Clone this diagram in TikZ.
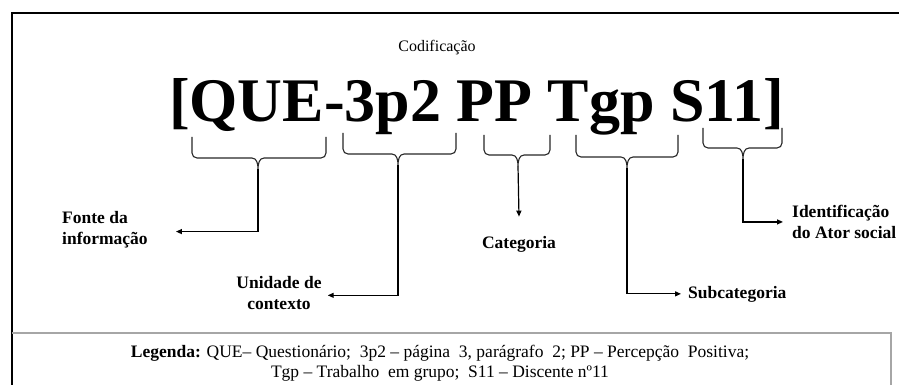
\documentclass[tikz,border=0pt]{standalone}
\usepackage{fontspec}
\setmainfont{Liberation Serif}
\usetikzlibrary{arrows.meta}
\newcommand\mybrace[5]{% left, right, centre, top, horizontal
  \draw[brc] (#1,-#4) -- (#1,-#5+5) to[out=-90,in=180] (#1+5,-#5) -- (#3-6,-#5)
    to[out=0,in=90] (#3,-#5-11) to[out=90,in=180] (#3+6,-#5) -- (#2-5,-#5)
    to[out=0,in=-90] (#2,-#5+5) -- (#2,-#4);}
\tikzset{
  brc/.style={line width=1.1pt, black!85},
  arr/.style={line width=1.2pt, -{Triangle[length=6pt,width=5pt]}},
  lbl/.style={inner sep=0pt, font=\fontsize{17.5}{21}\selectfont\bfseries},
  frame/.style={line width=1.2pt, black},
  legbox/.style={line width=1.6pt, black!35}
}
\begin{document}
\begin{tikzpicture}[x=1pt,y=1pt]
\useasboundingbox (0,0) rectangle (899,-385);
% frame
\draw[frame] (12,-385) -- (12,-13) -- (899,-13);
\draw[legbox] (12,-333) -- (891,-333) -- (891,-385);
% title and code
\node[inner sep=0pt, anchor=base, font=\fontsize{16}{19}\selectfont] (cod) at (437,-52) {Codificação};
\node[inner sep=0pt, anchor=base, font=\fontsize{62}{62}\selectfont\bfseries] (code) at (476.5,-122) {[QUE-3p2 PP Tgp S11]};
% braces
\mybrace{192}{326}{258}{137}{158}
\mybrace{343}{456}{398}{133}{154}
\mybrace{484}{550}{518}{135}{155}
\mybrace{576}{678}{627}{135}{157}
\mybrace{703}{782}{743}{128}{148}
\coordinate (t1) at (258,-169);
\coordinate (t2) at (398,-165);
\coordinate (t3) at (518,-166);
\coordinate (t4) at (627,-168);
\coordinate (t5) at (743,-159);
% labels
\node[lbl, align=left, anchor=north west] (fonte) at (62,-211) {Fonte da\\informação};
\node[lbl, align=center, anchor=north] (unid) at (279,-276) {Unidade de\\contexto};
\node[lbl, anchor=base] (cat) at (519,-248) {Categoria};
\node[lbl, anchor=base west] (sub) at (688,-298) {Subcategoria};
\node[lbl, align=left, anchor=north west] (ident) at (792,-205) {Identificação\\do Ator social};
% connectors
\draw[arr] (t1) |- ([xshift=28pt,yshift=-2pt]fonte.east);
\draw[arr] (t2) |- ([xshift=6pt,yshift=-2.5pt]unid.east);
\draw[arr] (t3) -- ([yshift=19pt]cat.north);
\draw[arr] (t4) |- ([xshift=-7pt]sub.west);
\draw[arr] (t5) |- ([xshift=-9pt]ident.west);
% legend
\node[inner sep=0pt, anchor=north, align=center, font=\fontsize{17.5}{20}\selectfont] (leg) at (440,-345)
  {\textbf{Legenda:} QUE– Questionário; \ 3p2 – página \ 3, parágrafo \ 2; PP – Percepção \ Positiva;\\
   Tgp – Trabalho \ em grupo; \ S11 – Discente nº11};
\end{tikzpicture}
\end{document}
